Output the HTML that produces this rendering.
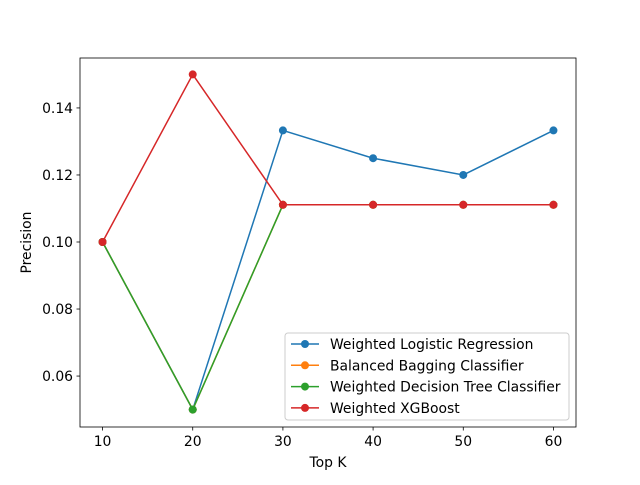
<!DOCTYPE html>
<html><head><meta charset="utf-8"><style>
body{margin:0;background:#fff;}
svg text{font-family:"DejaVu Sans","Liberation Sans",sans-serif;font-size:13.9px;fill:#000;}
</style></head><body>
<svg id="chart" width="640" height="480" xmlns="http://www.w3.org/2000/svg">
<rect width="640" height="480" fill="#fff"/>
<g id="plot"></g>
</svg>
<script>
const categories=[10,20,30,40,50,60];
const seriesNames=["Weighted Logistic Regression","Balanced Bagging Classifier","Weighted Decision Tree Classifier","Weighted XGBoost"];
const seriesColors=["#1f77b4","#ff7f0e","#2ca02c","#d62728"];
const logisticVals=[0.1,0.05,0.1333,0.125,0.12,0.1333];
const baggingVals=[0.1,0.05,0.1111,0.1111,0.1111,0.1111];
const treeVals=[0.1,0.05,0.1111,0.1111,0.1111,0.1111];
const xgbVals=[0.1,0.15,0.1111,0.1111,0.1111,0.1111];
const xTicks=[10,20,30,40,50,60];
const yTicks=[0.06,0.08,0.10,0.12,0.14];
const L=80,R=576,T=58,B=427,xMin=7.5,xMax=62.5,yMin=0.0448,yMax=0.1549;
const sx=v=>L+(v-xMin)/(xMax-xMin)*(R-L);
const sy=v=>B-(v-yMin)/(yMax-yMin)*(B-T);
const NS="http://www.w3.org/2000/svg";
const g=document.getElementById('plot');
function mk(t,a,p){const e=document.createElementNS(NS,t);for(const k in a)e.setAttribute(k,a[k]);(p||g).appendChild(e);return e;}
const all=[logisticVals,baggingVals,treeVals,xgbVals];
all.forEach((vals,i)=>{
 const pl=mk('polyline',{points:vals.map((v,j)=>sx(categories[j])+','+sy(v)).join(' '),fill:'none',stroke:seriesColors[i],'stroke-width':1.5});
 
 
 vals.forEach((v,j)=>{
  const c=mk('circle',{cx:sx(categories[j]),cy:sy(v),r:4,fill:seriesColors[i]});
  
  
 });
});
const frame=mk('rect',{x:L,y:T,width:R-L,height:B-T,fill:'none',stroke:'#000','stroke-width':0.8});


xTicks.forEach(t=>{
 mk('line',{x1:sx(t),x2:sx(t),y1:B,y2:B+3.5,stroke:'#000','stroke-width':0.8});
 const tx=mk('text',{x:sx(t),y:B+19,'text-anchor':'middle'});tx.textContent=t;
 
 
});
yTicks.forEach(t=>{
 mk('line',{x1:L,x2:L-3.5,y1:sy(t),y2:sy(t),stroke:'#000','stroke-width':0.8});
 const tx=mk('text',{x:L-7,y:sy(t)+5,'text-anchor':'end'});tx.textContent=t.toFixed(2);
 
 
});
const xt=mk('text',{x:(L+R)/2,y:467,'text-anchor':'middle'});xt.textContent='Top K';


const yt=mk('text',{x:31,y:(T+B)/2,'text-anchor':'middle',transform:'rotate(-90 31 '+((T+B)/2)+')'});yt.textContent='Precision';


const lg=mk('g',{});


mk('rect',{x:285,y:333,width:284,height:87,rx:3,fill:'#fff','fill-opacity':0.8,stroke:'#ccc'},lg);
seriesNames.forEach((n,i)=>{
 const y=344+i*21.3;
 const e=mk('g',{},lg);
 
 
 mk('line',{x1:291,x2:319,y1:y,y2:y,stroke:seriesColors[i],'stroke-width':1.5},e);
 mk('circle',{cx:305,cy:y,r:4,fill:seriesColors[i]},e);
 const t=mk('text',{x:330,y:y+5},e);t.textContent=n;
});
</script>
</body></html>
